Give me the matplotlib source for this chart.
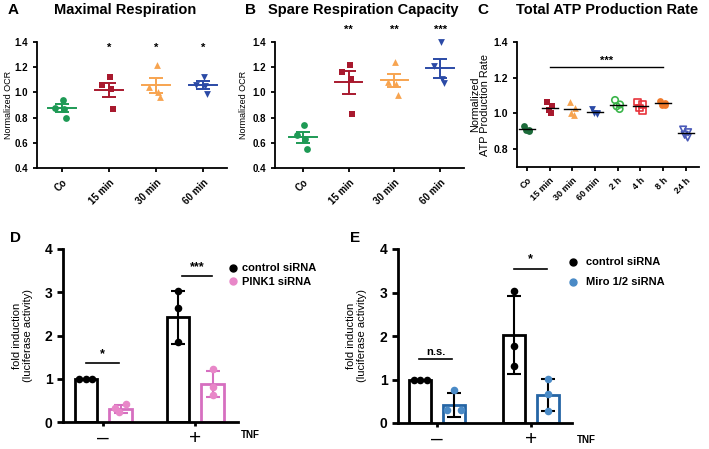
import numpy as np
import matplotlib
matplotlib.use("Agg")
import matplotlib.pyplot as plt
from matplotlib.lines import Line2D

plt.rcParams['font.family'] = ['Liberation Sans', 'DejaVu Sans']
plt.rcParams['font.weight'] = 'bold'

# ---- data: panels A/B (normalized OCR) ----
ab_cats = ["Co", "15 min", "30 min", "60 min"]
maxresp_pts = [[0.94, 0.88, 0.87, 0.80],
               [1.12, 1.055, 1.025, 0.87],
               [1.22, 1.04, 1.00, 0.96],
               [1.12, 1.06, 1.05, 0.99]]
maxresp_mean = [0.873, 1.02, 1.057, 1.06]
maxresp_sem = [0.032, 0.053, 0.059, 0.03]
maxresp_stars = ["", "*", "*", "*"]

spare_pts = [[0.74, 0.66, 0.63, 0.55],
             [1.215, 1.165, 1.11, 0.825],
             [1.245, 1.085, 1.07, 0.98],
             [1.40, 1.21, 1.11, 1.075]]
spare_mean = [0.645, 1.08, 1.095, 1.19]
spare_sem = [0.043, 0.09, 0.055, 0.075]
spare_stars = ["", "**", "**", "***"]

# ---- panel C (ATP production) ----
atp_cats = ["Co", "15 min", "30 min", "60 min", "2 h", "4 h", "8 h", "24 h"]
atp_pts = [[0.93, 0.91, 0.905, 0.90],
           [1.065, 1.04, 1.02, 1.005],
           [1.065, 1.03, 1.00, 0.99],
           [1.025, 1.005, 1.00, 0.995],
           [1.075, 1.05, 1.04, 1.025],
           [1.065, 1.05, 1.03, 1.015],
           [1.07, 1.06, 1.05, 1.05],
           [0.91, 0.895, 0.88, 0.865]]
atp_mean = [0.911, 1.032, 1.023, 1.006, 1.049, 1.041, 1.058, 0.889]

# ---- panels D/E (fold induction) ----
groups = ["\u2013", "+"]
d_ctrl_pts = [[1.0, 1.0, 1.0], [3.04, 2.63, 1.85]]
d_ctrl_mean = [1.0, 2.42]
d_ctrl_sd = [0.0, 0.62]
d_pink_pts = [[0.42, 0.32, 0.22], [1.22, 0.81, 0.63]]
d_pink_mean = [0.30, 0.88]
d_pink_sd = [0.10, 0.30]

e_ctrl_pts = [[1.0, 1.0, 1.0], [3.04, 1.78, 1.31]]
e_ctrl_mean = [1.0, 2.02]
e_ctrl_sd = [0.0, 0.90]
e_miro_pts = [[0.29, 0.76, 0.29], [1.02, 0.66, 0.28]]
e_miro_mean = [0.42, 0.64]
e_miro_sd = [0.28, 0.37]

W, H = 709, 449
fig = plt.figure(figsize=(W / 100, H / 100), dpi=100)


def ax_px(l, r, t, b):
    return fig.add_axes([l / W, 1 - b / H, (r - l) / W, (b - t) / H])


def style(ax, lw=1.3):
    for s in ["top", "right"]:
        ax.spines[s].set_visible(False)
    for s in ["left", "bottom"]:
        ax.spines[s].set_linewidth(lw)
    ax.tick_params(width=lw, length=3)


colors4 = ["#1e9a55", "#a8192e", "#f7a450", "#2b4aa6"]
markers4 = ["o", "s", "^", "v"]
jit = [0.02, -0.14, 0.04, 0.08]


def dot_panel(ax, pts, mean, sem, ylab):
    for i in range(len(pts)):
        xs = i + np.array(jit)
        ax.scatter(xs, pts[i], s=24, color=colors4[i], marker=markers4[i], zorder=3,
                   linewidths=0, clip_on=False)
        ax.plot([i - 0.3, i + 0.3], [mean[i]] * 2, color=colors4[i], lw=1.4)
        ax.errorbar(i, mean[i], yerr=sem[i], color=colors4[i], capsize=5, lw=1.4,
                    capthick=1.4, fmt="none")
    ax.set_ylim(0.4, 1.4)
    ax.set_yticks([0.4, 0.6, 0.8, 1.0, 1.2, 1.4])
    ax.set_yticklabels(["%.1f" % v for v in [0.4, 0.6, 0.8, 1.0, 1.2, 1.4]], fontsize=7)
    ax.set_xticks(range(len(pts)))
    ax.set_xticklabels(ab_cats, rotation=45, ha="right", rotation_mode="anchor", fontsize=7)
    ax.set_ylabel(ylab, fontsize=6.5)
    style(ax)


# A
axA = ax_px(37, 227, 42, 168)
dot_panel(axA, maxresp_pts, maxresp_mean, maxresp_sem, "Normalized OCR")
for i, st in enumerate(maxresp_stars):
    if st:
        axA.text(i, 1.31, st, ha="center", va="bottom", fontsize=8, clip_on=False)
axA.set_xlim(-0.53, 3.51)
axA.yaxis.set_label_coords(-0.128, 0.5)
fig.text(8 / W, 1 - 10 / H, "A", fontsize=11, va="center")
fig.text(125 / W, 1 - 10 / H, "Maximal Respiration", fontsize=10.5, ha="center", va="center")

# B
axB = ax_px(275, 464, 42, 168)
dot_panel(axB, spare_pts, spare_mean, spare_sem, "Normalized OCR")
for i, st in enumerate(spare_stars):
    if st:
        axB.text(i, 1.46, st, ha="center", va="bottom", fontsize=8, clip_on=False)
axB.set_xlim(-0.61, 3.52)
axB.yaxis.set_label_coords(-0.145, 0.5)
fig.text(245 / W, 1 - 10 / H, "B", fontsize=11, va="center")
fig.text(363 / W, 1 - 10 / H, "Spare Respiration Capacity", fontsize=10.5, ha="center", va="center")

# C
axC = ax_px(517, 699, 42, 167)
c_colors = ["#1c6b3a", "#a8192e", "#f7a450", "#2b4aa6", "#3ab54a", "#e8343c", "#f07a2a", "#4a5ab8"]
c_markers = ["o", "s", "^", "v", "o", "s", "o", "v"]
c_filled = [True, True, True, True, False, False, True, False]
cjit = [-0.12, 0.1, -0.05, 0.08]
for i in range(len(atp_pts)):
    xs = i + np.array(cjit)
    if c_filled[i]:
        axC.scatter(xs, atp_pts[i], s=24, color=c_colors[i], marker=c_markers[i], zorder=3, linewidths=0)
    else:
        axC.scatter(xs, atp_pts[i], s=22, facecolors="none", edgecolors=c_colors[i],
                    marker=c_markers[i], zorder=3, linewidths=1.2)
    axC.plot([i - 0.35, i + 0.35], [atp_mean[i]] * 2, color="black", lw=1.0, zorder=4)
axC.plot([1, 6], [1.26, 1.26], color="black", lw=1.0)
axC.text(3.5, 1.265, "***", ha="center", va="bottom", fontsize=8)
axC.set_ylim(0.7, 1.4)
axC.set_yticks([0.8, 1.0, 1.2, 1.4])
axC.set_yticklabels(["0.8", "1.0", "1.2", "1.4"], fontsize=7.5)
axC.set_xlim(-0.44, 7.58)
axC.set_xticks(range(len(atp_cats)))
axC.set_xticklabels(atp_cats, rotation=45, ha="right", rotation_mode="anchor", fontsize=6.5)
axC.set_ylabel("Normalized\nATP Production Rate", fontsize=7.8, linespacing=1.0)
axC.yaxis.set_label_coords(-0.148, 0.5)
style(axC)
fig.text(477 / W, 1 - 10 / H, "C", fontsize=11, va="center")
fig.text(607 / W, 1 - 10 / H, "Total ATP Production Rate", fontsize=10.5, ha="center", va="center")


def bar_panel(ax, ctrl_pts, ctrl_mean, ctrl_sd, kd_pts, kd_mean, kd_sd, kd_bar, kd_pt, kd_err,
              off, kd_jit0):
    x = np.arange(len(groups))
    bw = 0.24
    ax.bar(x - off, ctrl_mean, width=bw, facecolor="white", edgecolor="black", linewidth=2, zorder=2)
    ax.bar(x + off, kd_mean, width=bw, facecolor="white", edgecolor=kd_bar, linewidth=2, zorder=2)
    for i in range(len(groups)):
        if ctrl_sd[i] > 0:
            ax.errorbar(x[i] - off, ctrl_mean[i], yerr=ctrl_sd[i], color="black", capsize=5,
                        lw=1.5, capthick=1.5, fmt="none", zorder=3)
            cx = [x[i] - off] * 3
        else:
            cx = [x[i] - off - 0.07, x[i] - off, x[i] - off + 0.07]
        ax.errorbar(x[i] + off, kd_mean[i], yerr=kd_sd[i], color=kd_err,
                    capsize=5, lw=1.5, capthick=1.5, fmt="none", zorder=3)
        ax.scatter(cx, ctrl_pts[i], s=30, color="black", zorder=4, linewidths=0)
        if i == 0:
            kx = x[i] + off + np.array(kd_jit0)
        else:
            kx = [x[i] + off] * 3
        ax.scatter(kx, kd_pts[i], s=30, color=kd_pt, zorder=4, linewidths=0)
    ax.set_ylim(0, 4)
    ax.set_yticks([0, 1, 2, 3, 4])
    ax.set_yticklabels(["0", "1", "2", "3", "4"], fontsize=10)
    ax.set_xticks(x)
    ax.set_xticklabels(groups, fontsize=15, fontweight="normal")
    ax.tick_params(axis="x", length=0, pad=2)
    ax.set_ylabel("fold induction\n(luciferase activity)", fontsize=8, linespacing=1.1)
    style(ax, lw=2)
    ax.tick_params(axis="y", width=2, length=4)


# D
axD = ax_px(63, 238, 249, 422)
bar_panel(axD, d_ctrl_pts, d_ctrl_mean, d_ctrl_sd, d_pink_pts, d_pink_mean, d_pink_sd,
          "#d66fc0", "#e887c8", "#d66fc0", 0.19, [0.06, -0.06, -0.02])
axD.set_xlim(-0.435, 1.467)
axD.yaxis.set_label_coords(-0.17, 0.5)
axD.plot([-0.19, 0.17], [1.36, 1.36], color="black", lw=1.2)
axD.text(-0.01, 1.42, "*", ha="center", va="bottom", fontsize=9)
axD.plot([0.86, 1.18], [3.38, 3.38], color="black", lw=1.2)
axD.text(1.02, 3.44, "***", ha="center", va="bottom", fontsize=9)
fig.text(241 / W, 1 - 435 / H, "TNF", fontsize=7, va="center")
fig.text(10 / W, 1 - 238 / H, "D", fontsize=11, va="center")
fig.legend(handles=[Line2D([], [], marker="o", ls="", color="black", markersize=5),
                    Line2D([], [], marker="o", ls="", color="#e887c8", markersize=5)],
           labels=["control siRNA", "PINK1 siRNA"], loc="upper left",
           bbox_to_anchor=(222 / W, 1 - 259 / H), frameon=False, fontsize=8,
           handletextpad=0.2, labelspacing=0.35, borderaxespad=0, handlelength=1.2)

# E
axE = ax_px(398, 572, 249, 423)
bar_panel(axE, e_ctrl_pts, e_ctrl_mean, e_ctrl_sd, e_miro_pts, e_miro_mean, e_miro_sd,
          "#2565a5", "#4a8ac6", "black", 0.18, [-0.07, 0.0, 0.07])
axE.set_xlim(-0.415, 1.436)
axE.yaxis.set_label_coords(-0.18, 0.5)
axE.plot([-0.19, 0.16], [1.46, 1.46], color="black", lw=1.2)
axE.text(-0.015, 1.52, "n.s.", ha="center", va="bottom", fontsize=8)
axE.plot([0.82, 1.17], [3.55, 3.55], color="black", lw=1.2)
axE.text(0.995, 3.62, "*", ha="center", va="bottom", fontsize=9)
fig.text(577 / W, 1 - 440 / H, "TNF", fontsize=7, va="center")
fig.text(350 / W, 1 - 238 / H, "E", fontsize=11, va="center")
fig.legend(handles=[Line2D([], [], marker="o", ls="", color="black", markersize=5),
                    Line2D([], [], marker="o", ls="", color="#4a8ac6", markersize=5)],
           labels=["control siRNA", "Miro 1/2 siRNA"], loc="upper left",
           bbox_to_anchor=(562 / W, 1 - 253 / H), frameon=False, fontsize=8,
           handletextpad=0.6, labelspacing=0.9, borderaxespad=0, handlelength=1.2)

fig.savefig("out.png", dpi=100)
